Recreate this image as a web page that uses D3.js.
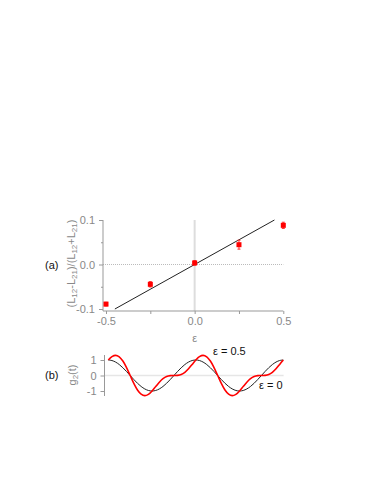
<!DOCTYPE html>
<html>
<head>
<meta charset="utf-8">
<script src="https://cdn.jsdelivr.net/npm/d3@7"></script>
<style>
  body { margin: 0; background: #fff; }
  svg { font-family: "Liberation Sans", Arial, sans-serif; }
</style>
</head>
<body>
<script>
const w = 383
const h = 496

// panel (a): asymmetry vs epsilon
var epsVals = [-0.5, -0.25, 0, 0.25, 0.5]
var asymVals = [-0.089, -0.0445, 0.0035, 0.0445, 0.088]
var asymErr = [0.004, 0.006, 0.005, 0.01, 0.007]
var fitEps = [-0.45, 0.45]
var fitVals = [-0.1, 0.1]
var xTicksA = [-0.5, 0, 0.5]
var xMinorA = [-0.25, 0.25]
var yTicksA = [-0.1, 0, 0.1]
var yMinorA = [-0.05, 0.05]

// panel (b): g2(t), sampled every 1/24 of the window
var g2eps0 = [1, 0.966, 0.866, 0.707, 0.5, 0.259, 0, -0.259, -0.5, -0.707, -0.866, -0.966,
  -1, -0.966, -0.866, -0.707, -0.5, -0.259, 0, 0.259, 0.5, 0.707, 0.866, 0.966,
  1, 0.966, 0.866, 0.707, 0.5, 0.259, 0, -0.259, -0.5, -0.707, -0.866, -0.966,
  -1, -0.966, -0.866, -0.707, -0.5, -0.259, 0, 0.259, 0.5, 0.707, 0.866, 0.966, 1]
var g2eps05 = [1, 1.216, 1.299, 1.207, 0.933, 0.509, 0, -0.509, -0.933, -1.207, -1.299, -1.216,
  -1, -0.716, -0.433, -0.207, -0.067, -0.009, 0, 0.009, 0.067, 0.207, 0.433, 0.716,
  1, 1.216, 1.299, 1.207, 0.933, 0.509, 0, -0.509, -0.933, -1.207, -1.299, -1.216,
  -1, -0.716, -0.433, -0.207, -0.067, -0.009, 0, 0.009, 0.067, 0.207, 0.433, 0.716, 1]
var yTicksB = [-1, 0, 1]

const axisCol = '#999'
const labelCol = '#888'
// plain hyphen for negatives, like the original
const fmt1 = d => d3.format('.1f')(d).replace('\u2212', '-')
const fmt0 = d => d3.format('d')(d).replace('\u2212', '-')

const svg = d3.select('body')
  .append('svg')
  .attr('width', w)
  .attr('height', h)

// ---------- panel (a)
var xA = d3.scaleLinear().domain([-0.5, 0.5]).range([106, 283.3])
var yA = d3.scaleLinear().domain([-0.1, 0.1]).range([309, 220])
const axLeft = 103
const axBottom = 311

// guide lines
svg.append('line')
  .attr('x1', xA(0)).attr('x2', xA(0))
  .attr('y1', yA(0.1)).attr('y2', axBottom)
  .attr('stroke', '#ddd').attr('stroke-width', 2)
svg.append('line')
  .attr('x1', axLeft).attr('x2', xA(0.5))
  .attr('y1', yA(0)).attr('y2', yA(0))
  .attr('stroke', '#bbb').attr('stroke-width', 1.2)
  .attr('stroke-dasharray', '1,1')

// axes
var gyA = svg.append('g')
  .attr('transform', `translate(${axLeft},0)`)
  .call(d3.axisLeft(yA).tickValues(yTicksA).tickSize(4).tickPadding(4).tickFormat(fmt1))
gyA.append('g').call(d3.axisLeft(yA).tickValues(yMinorA).tickSize(2).tickFormat(''))
var gxA = svg.append('g')
  .attr('transform', `translate(0,${axBottom})`)
  .call(d3.axisBottom(xA).tickValues(xTicksA).tickSize(3).tickFormat(fmt1))
gxA.append('g').call(d3.axisBottom(xA).tickValues(xMinorA).tickSize(3).tickFormat(''))

svg.append('line')
  .attr('x1', axLeft).attr('x2', axLeft)
  .attr('y1', yA(0.1)).attr('y2', axBottom)
  .attr('stroke', axisCol)
svg.append('line')
  .attr('x1', axLeft).attr('x2', xA(0.5))
  .attr('y1', axBottom).attr('y2', axBottom)
  .attr('stroke', axisCol)

// fit line
svg.append('line')
  .attr('x1', xA(fitEps[0])).attr('y1', yA(fitVals[0]))
  .attr('x2', xA(fitEps[1])).attr('y2', yA(fitVals[1]))
  .attr('stroke', '#222').attr('stroke-width', 1)

// data points with error bars
var pts = svg.selectAll('.pt')
  .data(epsVals.map((e, i) => [e, asymVals[i], asymErr[i]]))
  .enter()
  .append('g')
pts.append('line')
  .attr('x1', d => xA(d[0])).attr('x2', d => xA(d[0]))
  .attr('y1', d => yA(d[1] - d[2])).attr('y2', d => yA(d[1] + d[2]))
  .attr('stroke', '#f33').attr('stroke-width', 1)
pts.selectAll('.cap')
  .data(d => [[d[0], d[1] - d[2]], [d[0], d[1] + d[2]]])
  .enter()
  .append('line')
  .attr('x1', d => xA(d[0]) - 1.5).attr('x2', d => xA(d[0]) + 1.5)
  .attr('y1', d => yA(d[1])).attr('y2', d => yA(d[1]))
  .attr('stroke', '#f33').attr('stroke-width', 1)
pts.append('rect')
  .attr('x', d => xA(d[0]) - 2.5)
  .attr('y', d => yA(d[1]) - 2.5)
  .attr('width', 5)
  .attr('height', 5)
  .attr('fill', 'red')

// labels
svg.append('text')
  .attr('x', xA(0)).attr('y', 342)
  .attr('text-anchor', 'middle')
  .attr('font-size', 11)
  .attr('fill', labelCol)
  .text('ε')

var ylab = svg.append('text')
  .attr('transform', `translate(75,${(220 + 307) / 2}) rotate(-90)`)
  .attr('text-anchor', 'middle')
  .attr('font-size', 11)
  .attr('fill', labelCol)
ylab.append('tspan').text('(L')
ylab.append('tspan').attr('font-size', 8).attr('dy', 2).text('12')
ylab.append('tspan').attr('dy', -2).text('-L')
ylab.append('tspan').attr('font-size', 8).attr('dy', 2).text('21')
ylab.append('tspan').attr('dy', -2).text(')/(L')
ylab.append('tspan').attr('font-size', 8).attr('dy', 2).text('12')
ylab.append('tspan').attr('dy', -2).text('+L')
ylab.append('tspan').attr('font-size', 8).attr('dy', 2).text('21')
ylab.append('tspan').attr('dy', -2).text(')')

svg.append('text')
  .attr('x', 45).attr('y', 268.5)
  .attr('font-size', 11)
  .attr('fill', '#111')
  .text('(a)')

// ---------- panel (b)
var xB = d3.scaleLinear().domain([0, g2eps0.length - 1]).range([108.3, 283.3])
var yB = d3.scaleLinear().domain([-1, 1]).range([391, 360])
const axLeftB = 104.5

svg.append('line')
  .attr('x1', axLeftB).attr('x2', xB(g2eps0.length - 1))
  .attr('y1', yB(0)).attr('y2', yB(0))
  .attr('stroke', '#ccc').attr('stroke-width', 1.5)
  .attr('stroke-dasharray', '1,1')

svg.append('g')
  .attr('transform', `translate(${axLeftB},0)`)
  .call(d3.axisLeft(yB).tickValues(yTicksB).tickSize(4).tickPadding(4).tickFormat(fmt0))
svg.append('line')
  .attr('x1', axLeftB).attr('x2', axLeftB)
  .attr('y1', 355).attr('y2', 396)
  .attr('stroke', axisCol)

var lineB = d3.line()
  .x((d, i) => xB(i))
  .y(d => yB(d))
  .curve(d3.curveCatmullRom)

svg.append('path')
  .datum(g2eps0)
  .attr('d', lineB)
  .attr('fill', 'none')
  .attr('stroke', '#222')
  .attr('stroke-width', 1)
svg.append('path')
  .datum(g2eps05)
  .attr('d', lineB)
  .attr('fill', 'none')
  .attr('stroke', '#f00')
  .attr('stroke-width', 1.6)

svg.append('text')
  .attr('x', 213).attr('y', 355)
  .attr('font-size', 11)
  .attr('fill', '#111')
  .text('ε = 0.5')
svg.append('text')
  .attr('x', 259).attr('y', 388.5)
  .attr('font-size', 11)
  .attr('fill', '#111')
  .text('ε = 0')

var ylabB = svg.append('text')
  .attr('transform', 'translate(76,375) rotate(-90)')
  .attr('text-anchor', 'middle')
  .attr('font-size', 11)
  .attr('fill', labelCol)
ylabB.append('tspan').text('g')
ylabB.append('tspan').attr('font-size', 8).attr('dy', 2).text('2')
ylabB.append('tspan').attr('dy', -2).text('(t)')

svg.append('text')
  .attr('x', 45).attr('y', 379)
  .attr('font-size', 11)
  .attr('fill', '#111')
  .text('(b)')

// axis styling
svg.selectAll('.domain').remove()
svg.selectAll('.tick line').attr('stroke', axisCol)
svg.selectAll('.tick text')
  .attr('fill', labelCol)
  .attr('font-size', 11)
  .attr('font-family', '"Liberation Sans", Arial, sans-serif')
</script>
</body>
</html>
